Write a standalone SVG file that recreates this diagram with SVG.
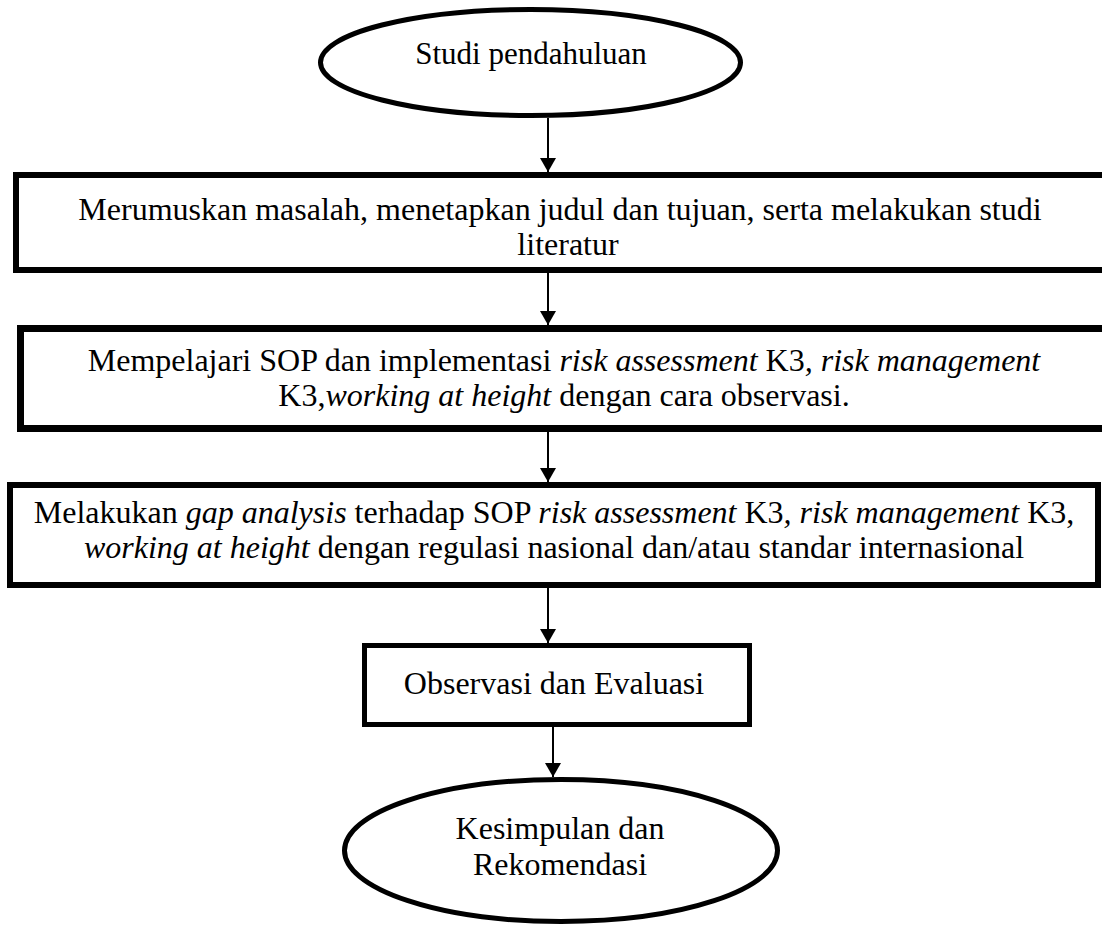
<svg xmlns="http://www.w3.org/2000/svg" width="1102" height="927" viewBox="0 0 1102 927">
<style>
.shape{fill:#fff;stroke:#000}
.t{font-family:"Liberation Serif","Times New Roman",serif;font-size:32px;fill:#000;text-anchor:middle}
.i{font-style:italic}
.c{stroke:#000;stroke-width:2;fill:none}
</style>
<defs>
<marker id="ah" markerUnits="userSpaceOnUse" markerWidth="14" markerHeight="16" refX="14" refY="8" orient="auto" viewBox="0 0 14 16">
<path d="M0,0 L14,8 L0,16 Z" fill="#000"/>
</marker>
</defs>
<rect width="1102" height="927" fill="#fff"/>
<g id="connectors">
<line class="c" x1="548" y1="118" x2="548" y2="172" marker-end="url(#ah)"/>
<line class="c" x1="548" y1="273" x2="548" y2="325" marker-end="url(#ah)"/>
<line class="c" x1="548" y1="432" x2="548" y2="482" marker-end="url(#ah)"/>
<line class="c" x1="548" y1="588" x2="548" y2="643" marker-end="url(#ah)"/>
<line class="c" x1="553" y1="727" x2="553" y2="777" marker-end="url(#ah)"/>
</g>
<g id="start">
<ellipse class="shape" cx="530.5" cy="62.5" rx="210" ry="53" stroke-width="5"/>
<text class="t" x="531" y="64" style="font-size:31px">Studi pendahuluan</text>
</g>
<g id="step1">
<rect class="shape" x="16" y="175" width="1100" height="95" stroke-width="6"/>
<text class="t" x="560" y="220">Merumuskan masalah, menetapkan judul dan tujuan, serta melakukan studi</text>
<text class="t" x="568" y="255">literatur</text>
</g>
<g id="step2">
<rect class="shape" x="20.5" y="328.5" width="1100" height="100" stroke-width="7"/>
<text class="t" x="564" y="371">Mempelajari SOP dan implementasi <tspan class="i">risk assessment</tspan> K3<tspan class="i">, risk management</tspan></text>
<text class="t" x="564" y="406">K3,<tspan class="i">working at height</tspan> dengan cara observasi.</text>
</g>
<g id="step3">
<rect class="shape" x="10" y="485" width="1088" height="100" stroke-width="6"/>
<text class="t" x="554" y="523">Melakukan <tspan class="i">gap analysis</tspan> terhadap SOP <tspan class="i">risk assessment</tspan> K3<tspan class="i">, risk management</tspan> K3,</text>
<text class="t" x="554" y="558"><tspan class="i">working at height</tspan> dengan regulasi nasional dan/atau standar internasional</text>
</g>
<g id="step4">
<rect class="shape" x="364.5" y="645.5" width="385" height="79" stroke-width="5"/>
<text class="t" x="554" y="694">Observasi dan Evaluasi</text>
</g>
<g id="end">
<ellipse class="shape" cx="561" cy="850.5" rx="216.5" ry="71" stroke-width="5"/>
<text class="t" x="560" y="839">Kesimpulan dan</text>
<text class="t" x="560" y="875">Rekomendasi</text>
</g>
</svg>
